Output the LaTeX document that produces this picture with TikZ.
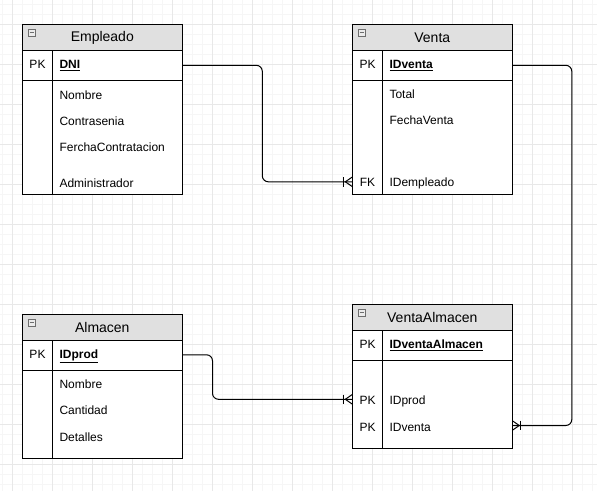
\documentclass[tikz,border=0pt]{standalone}
\usepackage{fontspec}
\setmainfont{Liberation Sans}
\definecolor{headfill}{RGB}{224,224,224}
\definecolor{gridminor}{RGB}{246,246,246}
\definecolor{gridmajor}{RGB}{232,232,232}
\definecolor{iconbd}{RGB}{110,110,110}
\newcommand\ertbl[5]{%
  \node[tbl,minimum height=#4pt] (#1) at (#2,#3) {};
  \fill[headfill] (#2,#3) rectangle (#2+160,#3+26);
  \draw[line width=1pt] (#2,#3+26) -- (#2+160,#3+26);
  \draw[line width=1pt] (#2,#3+56) -- (#2+160,#3+56);
  \draw[line width=1pt] (#2+30.4,#3+26) -- (#2+30.4,#3+#4);
  \draw[line width=1pt] (#1.north west) rectangle (#1.south east);
  \node[ttl] (#1T) at (#2+80,#3+13.6) {#5};
  \node[icon] (#1I) at (#2+9.5,#3+8.2) {};
  \draw[iconbd,line width=0.8pt] (#1I.west) ++(1.6,0) -- ($(#1I.east)+(-1.6,0)$);
}
\usetikzlibrary{calc}
\begin{document}
\begin{tikzpicture}[x=1pt,y=-1pt,
  tbl/.style={draw=none,fill=white,minimum width=160pt,inner sep=0pt,outer sep=0pt,anchor=north west},
  ttl/.style={inner sep=0pt,font=\fontsize{14}{16}\selectfont},
  fld/.style={inner sep=0pt,anchor=base west,font=\fontsize{12}{14}\selectfont},
  key/.style={inner sep=0pt,anchor=base,font=\fontsize{12}{14}\selectfont},
  rowbox/.style={minimum width=160pt,minimum height=28pt,inner sep=0pt,outer sep=0pt},
  icon/.style={draw=iconbd,fill=headfill!60,line width=0.6pt,minimum size=7pt,inner sep=0pt},
  conn/.style={draw=black,line width=1pt,rounded corners=6pt},
  foot/.style={draw=black,line width=1pt}]
\useasboundingbox (0,0) rectangle (597,491);
\fill[white] (0,0) rectangle (597,491);
% grid
\foreach \x in {2,12,...,592} \draw[gridminor,line width=0.6pt] (\x,0) -- (\x,491);
\foreach \y in {4,14,...,484} \draw[gridminor,line width=0.6pt] (0,\y) -- (597,\y);
\foreach \x in {12,52,...,592} \draw[gridmajor,line width=0.7pt] (\x,0) -- (\x,491);
\foreach \y in {24,64,...,484} \draw[gridmajor,line width=0.7pt] (0,\y) -- (597,\y);

% Empleado
\ertbl{emp}{22.3}{24.3}{170}{Empleado}
\node[rowbox] (empPK) at (102.3,65.3) {};
\node[key] (empk1) at (37.5,68.6) {PK};
\node[fld] (empf1) at (59.3,68.6) {\underline{\textbf{DNI}}};
\node[fld] (empf2) at (59.3,99.3) {Nombre};
\node[fld] (empf3) at (59.3,125) {Contrasenia};
\node[fld] (empf4) at (59.3,151) {FerchaContratacion};
\node[fld] (empf5) at (59.3,187) {Administrador};

% Venta
\ertbl{ven}{352.3}{24.3}{170}{Venta}
\node[rowbox] (venPK) at (432.3,65.3) {};
\node[rowbox] (venFK) at (432.3,181.8) {};
\node[key] (venk1) at (367.5,68.6) {PK};
\node[fld] (venf1) at (389.3,68.6) {\underline{\textbf{IDventa}}};
\node[fld] (venf2) at (389.3,98.6) {Total};
\node[fld] (venf3) at (389.3,124.3) {FechaVenta};
\node[key] (venk4) at (367.5,186.6) {FK};
\node[fld] (venf4) at (389.3,186.6) {IDempleado};

% Almacen
\ertbl{alm}{22.3}{314.3}{144}{Almacen}
\node[rowbox] (almPK) at (102.3,354.8) {};
\node[key] (almk1) at (37.5,358.6) {PK};
\node[fld] (almf1) at (59.3,358.6) {\underline{\textbf{IDprod}}};
\node[fld] (almf2) at (59.3,388.6) {Nombre};
\node[fld] (almf3) at (59.3,414.3) {Cantidad};
\node[fld] (almf4) at (59.3,441) {Detalles};

% VentaAlmacen
\ertbl{va}{352.3}{304.3}{144}{VentaAlmacen}
\node[rowbox] (vaP2) at (432.3,399.3) {};
\node[rowbox] (vaP3) at (432.3,425.5) {};
\node[key] (vak1) at (367.5,348.6) {PK};
\node[fld] (vaf1) at (389.3,348.6) {\underline{\textbf{IDventaAlmacen}}};
\node[key] (vak2) at (367.5,404.3) {PK};
\node[fld] (vaf2) at (389.3,404.3) {IDprod};
\node[key] (vak3) at (367.5,431) {PK};
\node[fld] (vaf3) at (389.3,431) {IDventa};

% connectors
\draw[conn] (empPK.east) -- ++(80,0) |- (venFK.west);
\draw[foot] ($(venFK.west)+(-8.5,-4.8)$) -- ++(0,9.6);
\draw[foot] ($(venFK.west)+(0,-4.8)$) -- ($(venFK.west)+(-7,0)$) -- ($(venFK.west)+(0,4.8)$);

\draw[conn] (venPK.east) -- ++(59.5,0) |- (vaP3.east);
\draw[foot] ($(vaP3.east)+(8.5,-4.8)$) -- ++(0,9.6);
\draw[foot] ($(vaP3.east)+(0,-4.8)$) -- ($(vaP3.east)+(7,0)$) -- ($(vaP3.east)+(0,4.8)$);

\draw[conn] (almPK.east) -- ++(30.2,0) |- (vaP2.west);
\draw[foot] ($(vaP2.west)+(-8.5,-4.8)$) -- ++(0,9.6);
\draw[foot] ($(vaP2.west)+(0,-4.8)$) -- ($(vaP2.west)+(-7,0)$) -- ($(vaP2.west)+(0,4.8)$);
\end{tikzpicture}
\end{document}
